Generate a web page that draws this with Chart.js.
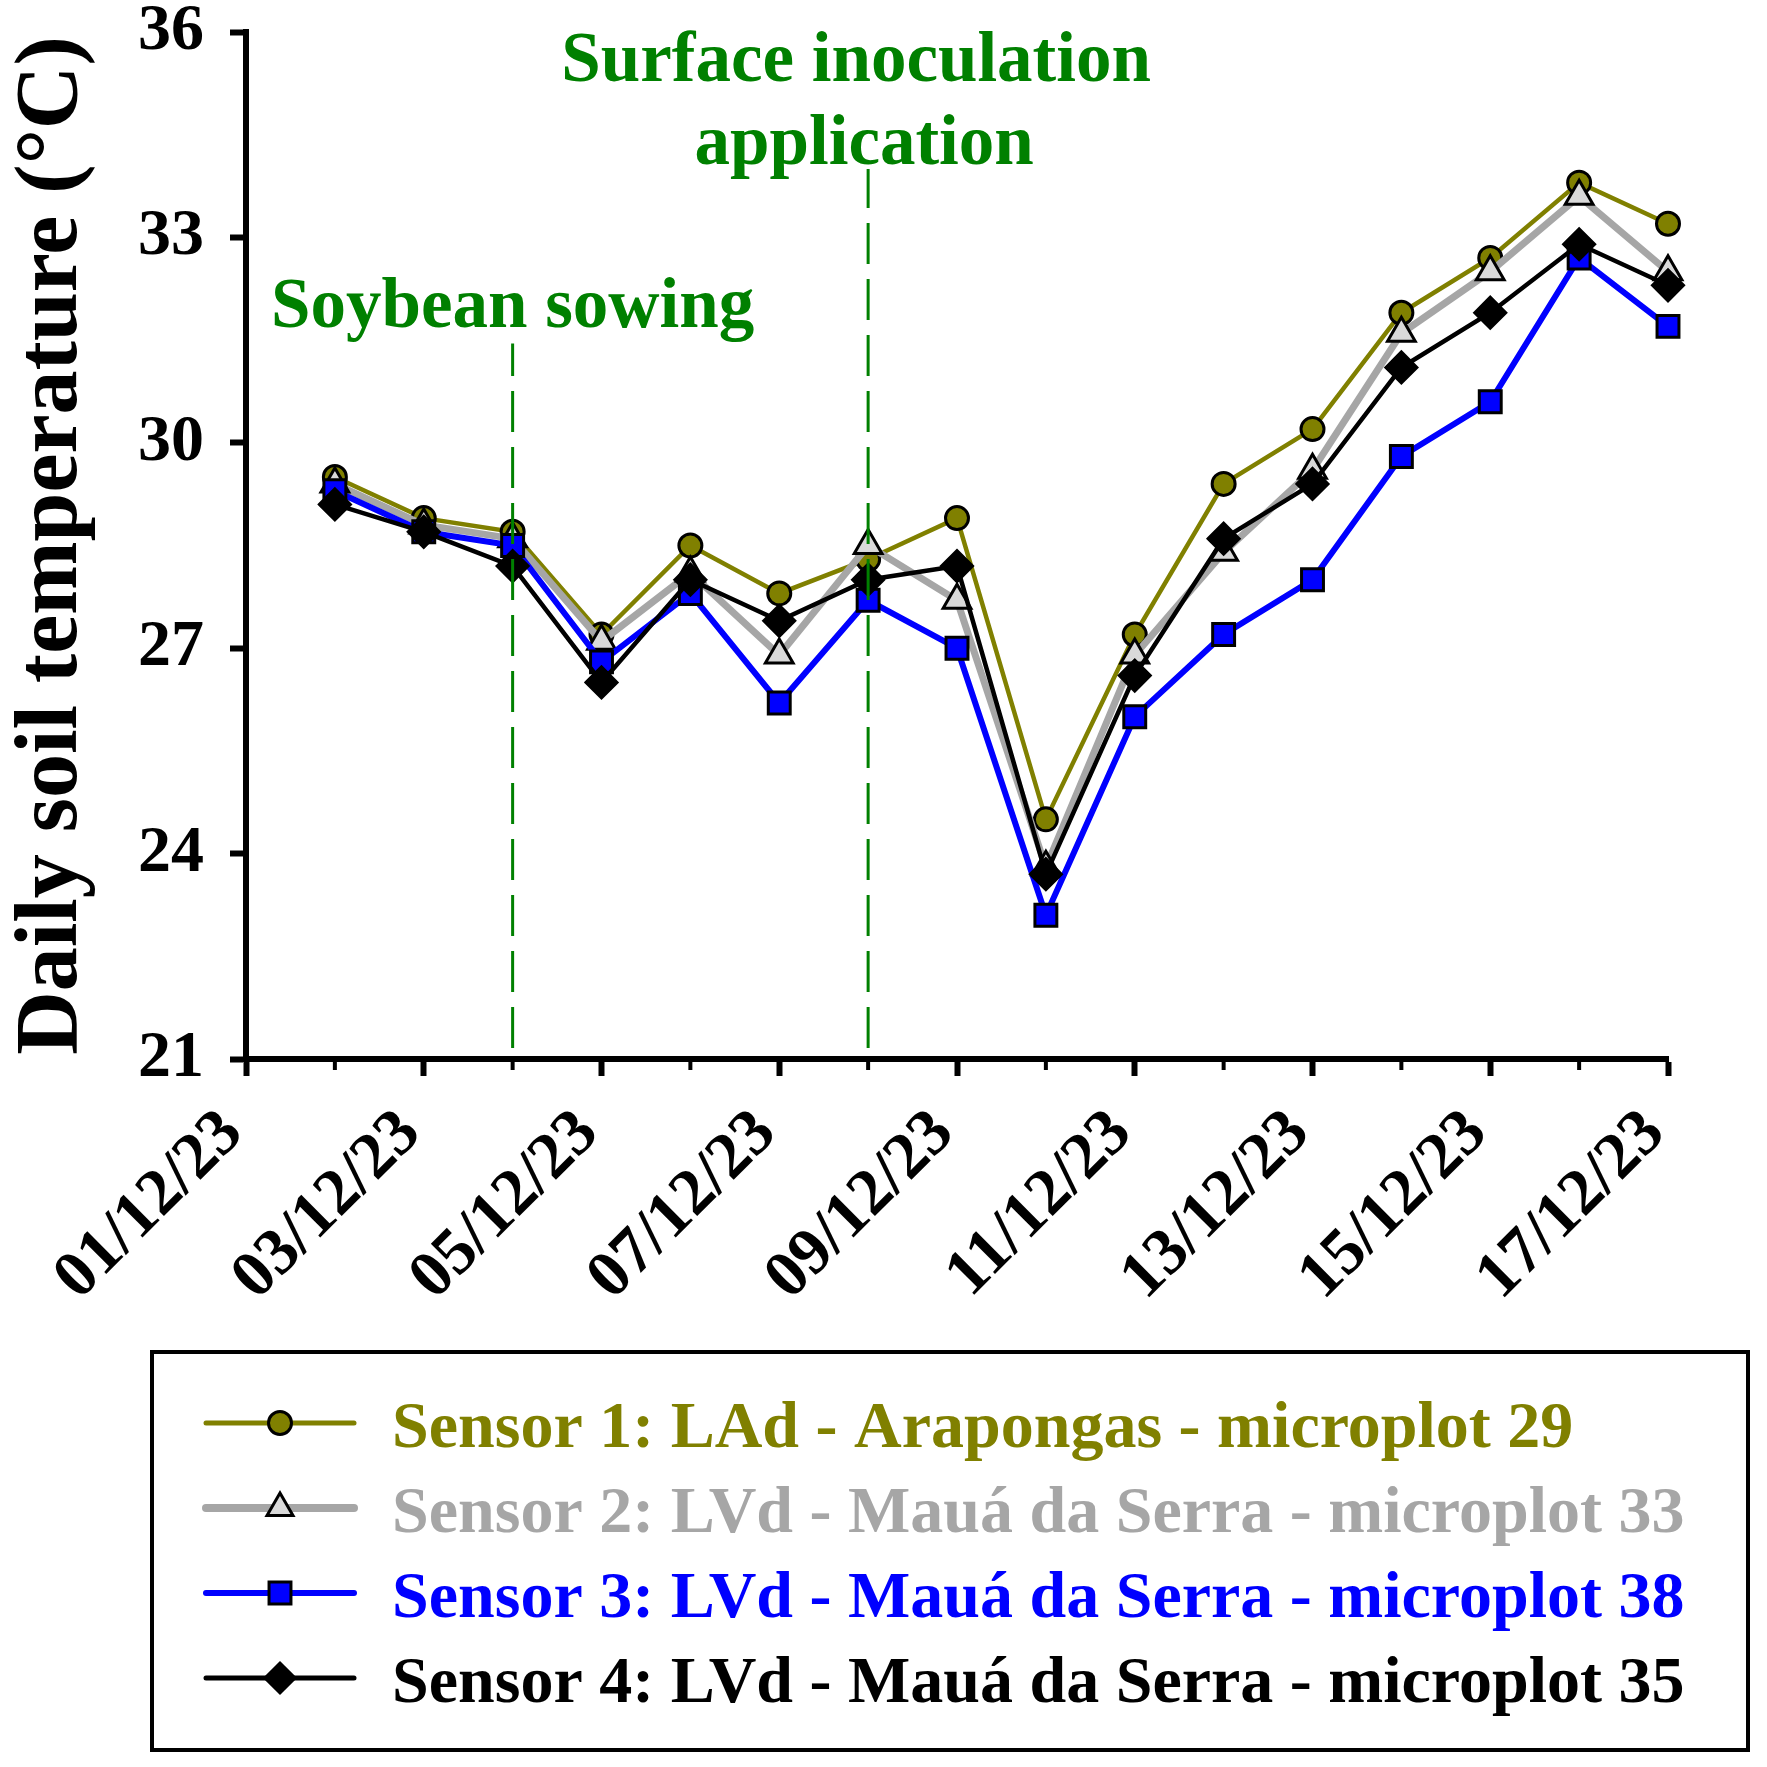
<!DOCTYPE html>
<html>
<head>
<meta charset="utf-8">
<script src="https://cdn.jsdelivr.net/npm/chart.js@4.4.1/dist/chart.umd.min.js"></script>
<style>
  html, body { margin: 0; padding: 0; background: #ffffff; }
  #wrap { width: 1767px; height: 1767px; }
</style>
</head>
<body>
<div id="wrap"><canvas id="chart" width="1767" height="1767"></canvas></div>
<script>
// ---------------- DATA ----------------
const dates = ['01/12/23','02/12/23','03/12/23','04/12/23','05/12/23','06/12/23','07/12/23','08/12/23','09/12/23',
               '10/12/23','11/12/23','12/12/23','13/12/23','14/12/23','15/12/23','16/12/23','17/12/23'];

const sensor1 = [null, 29.5, 28.9, 28.7, 27.2, 28.5, 27.8, 28.3, 28.9, 24.5, 27.2, 29.4, 30.2, 31.9, 32.7, 33.8, 33.2];
const sensor2 = [null, 29.4, 28.8, 28.6, 27.1, 28.1, 26.9, 28.5, 27.7, 23.8, 26.9, 28.4, 29.6, 31.6, 32.5, 33.6, 32.5];
const sensor3 = [null, 29.3, 28.7, 28.5, 26.8, 27.8, 26.2, 27.7, 27.0, 23.1, 26.0, 27.2, 28.0, 29.8, 30.6, 32.7, 31.7];
const sensor4 = [null, 29.1, 28.7, 28.2, 26.5, 28.0, 27.4, 28.0, 28.2, 23.7, 26.6, 28.6, 29.4, 31.1, 31.9, 32.9, 32.3];

const seriesNames = [
  'Sensor 1: LAd - Arapongas - microplot 29',
  'Sensor 2: LVd - Mauá da Serra - microplot 33',
  'Sensor 3: LVd - Mauá da Serra - microplot 38',
  'Sensor 4: LVd - Mauá da Serra - microplot 35'
];

const yMin = 21, yMax = 36, yStep = 3;

const eventDates  = ['04/12/23', '08/12/23'];
const eventLabels = [['Soybean sowing'], ['Surface inoculation', 'application']];

// ---------------- STYLE ----------------
const FONT = '"Liberation Serif", "Times New Roman", serif';
const GREEN = '#008000';
const seriesStyles = [
  { color: '#808000', width: 4.5, legendWidth: 5, point: 'circle',   radius: 11.5, fill: '#808000', legendRadius: 11.5 },
  { color: '#A6A6A6', width: 7,   legendWidth: 8, point: 'triangle', radius: 16,   fill: '#D9D9D9', legendRadius: 15 },
  { color: '#0000FF', width: 6,   legendWidth: 6, point: 'rect',     radius: 15.5, fill: '#0000FF', legendRadius: 15.5 },
  { color: '#000000', width: 4.5, legendWidth: 5, point: 'rectRot',  radius: 15.5, fill: '#000000', legendRadius: 15 }
];
const seriesValues = [sensor1, sensor2, sensor3, sensor4];

const datasets = seriesValues.map((vals, i) => ({
  label: seriesNames[i],
  data: vals,
  borderColor: seriesStyles[i].color,
  borderWidth: seriesStyles[i].width,
  pointStyle: seriesStyles[i].point,
  pointRadius: seriesStyles[i].radius,
  pointHoverRadius: seriesStyles[i].radius,
  pointBackgroundColor: seriesStyles[i].fill,
  pointBorderColor: '#000000',
  pointBorderWidth: 3,
  tension: 0,
  fill: false,
  order: 4 - i
}));

function drawMarker(ctx, style, x, y, r, fill) {
  ctx.save();
  ctx.fillStyle = fill;
  ctx.strokeStyle = '#000000';
  ctx.lineWidth = 3;
  if (Chart.helpers && Chart.helpers.drawPoint) {
    Chart.helpers.drawPoint(ctx, { pointStyle: style, rotation: 0, radius: r, borderWidth: 3 }, x, y);
  } else {
    ctx.beginPath();
    ctx.arc(x, y, r, 0, Math.PI * 2);
    ctx.fill(); ctx.stroke();
  }
  ctx.restore();
}

// minor (unlabelled) x tick marks: shorter
const minorTicks = {
  id: 'minorTicks',
  beforeDatasetsDraw(chart) {
    const { ctx, scales: { x } } = chart;
    ctx.save();
    ctx.strokeStyle = '#000000';
    ctx.lineWidth = 4;
    x.ticks.forEach((t, i) => {
      if (i % 2 === 1) {
        const px = x.getPixelForTick(i);
        ctx.beginPath();
        ctx.moveTo(px, x.top);
        ctx.lineTo(px, x.top + 11);
        ctx.stroke();
      }
    });
    ctx.restore();
  }
};

// event markers (dashed green verticals + labels)
const eventLineTops = [31.45, 34.0];
const eventTextBaselines = [31.69, 35.29];
const eventTextDx = [[0], [-12, -4]];
const events = {
  id: 'events',
  afterDatasetsDraw(chart) {
    const { ctx, scales: { x, y } } = chart;
    ctx.save();
    eventDates.forEach((d, i) => {
      const px = x.getPixelForValue(dates.indexOf(d));
      const yTop = y.getPixelForValue(eventLineTops[i]);
      const yBot = y.getPixelForValue(yMin) - 11;
      ctx.strokeStyle = GREEN;
      ctx.lineWidth = 3;
      ctx.setLineDash([41, 15]);
      ctx.beginPath();
      ctx.moveTo(px, yBot);
      ctx.lineTo(px, yTop);
      ctx.stroke();
      ctx.setLineDash([]);
      ctx.fillStyle = GREEN;
      ctx.font = 'bold 71px ' + FONT;
      ctx.textAlign = 'center';
      ctx.textBaseline = 'alphabetic';
      const base = y.getPixelForValue(eventTextBaselines[i]);
      eventLabels[i].forEach((line, j) => {
        ctx.fillText(line, px + eventTextDx[i][j], base + j * 83);
      });
    });
    ctx.restore();
  }
};

// boxed legend with line+marker samples
const boxLegend = {
  id: 'boxLegend',
  afterDraw(chart) {
    const ctx = chart.ctx;
    ctx.save();
    ctx.strokeStyle = '#000000';
    ctx.lineWidth = 4;
    ctx.strokeRect(152, 1352, 1596, 398);
    chart.data.datasets.forEach((ds, i) => {
      const st = seriesStyles[i];
      const cy = 1423 + i * 85;
      ctx.strokeStyle = st.color;
      ctx.lineWidth = st.legendWidth;
      ctx.lineCap = 'round';
      ctx.beginPath();
      ctx.moveTo(206, cy);
      ctx.lineTo(354, cy);
      ctx.stroke();
      drawMarker(ctx, st.point, 280, cy, st.legendRadius, st.fill);
      ctx.fillStyle = st.color;
      ctx.font = 'bold 66px ' + FONT;
      ctx.textAlign = 'left';
      ctx.textBaseline = 'alphabetic';
      ctx.fillText(ds.label, 392, cy + 24);
    });
    ctx.restore();
  }
};

const whiteBg = {
  id: 'whiteBg',
  beforeDraw(chart) {
    const ctx = chart.ctx;
    ctx.save();
    ctx.fillStyle = '#ffffff';
    ctx.fillRect(0, 0, chart.width, chart.height);
    ctx.restore();
  }
};

Chart.defaults.font.family = FONT;
Chart.defaults.font.weight = 'bold';
Chart.defaults.color = '#000000';

new Chart(document.getElementById('chart'), {
  type: 'line',
  data: { labels: dates, datasets },
  options: {
    responsive: false,
    devicePixelRatio: 1,
    animation: false,
    layout: { padding: { top: 32, right: 99, bottom: 427, left: 0 } },
    plugins: {
      legend: { display: false },
      tooltip: { enabled: false }
    },
    scales: {
      x: {
        type: 'category',
        offset: false,
        afterFit(scale) { scale.height = 281; scale.paddingLeft = 0; scale.paddingRight = 0; },
        border: { display: true, color: '#000000', width: 6 },
        grid: {
          drawOnChartArea: false,
          drawTicks: true,
          tickLength: 17,
          tickWidth: 6,
          tickColor: (c) => (c.index % 2 === 0 ? '#000000' : 'rgba(0,0,0,0)')
        },
        ticks: {
          autoSkip: false,
          maxRotation: 45,
          minRotation: 45,
          padding: 19,
          labelOffset: -13,
          color: '#000000',
          font: { size: 66, weight: 'bold', family: FONT },
          callback: (v, i) => (i % 2 === 0 ? dates[i] : '')
        }
      },
      y: {
        min: yMin,
        max: yMax,
        afterFit(scale) { scale.width = 246; scale.paddingTop = 0; scale.paddingBottom = 0; },
        border: { display: true, color: '#000000', width: 6 },
        grid: {
          drawOnChartArea: false,
          drawTicks: true,
          tickLength: 16,
          tickWidth: 6,
          tickColor: '#000000'
        },
        ticks: {
          stepSize: yStep,
          padding: 26,
          color: '#000000',
          font: { size: 66, weight: 'bold', family: FONT }
        },
        title: {
          display: true,
          text: 'Daily soil temperature (°C)',
          color: '#000000',
          font: { size: 88, weight: 'bold', family: FONT, lineHeight: 1 },
          padding: { top: 9, bottom: 0 }
        }
      }
    }
  },
  plugins: [whiteBg, minorTicks, events, boxLegend]
});
</script>
</body>
</html>
